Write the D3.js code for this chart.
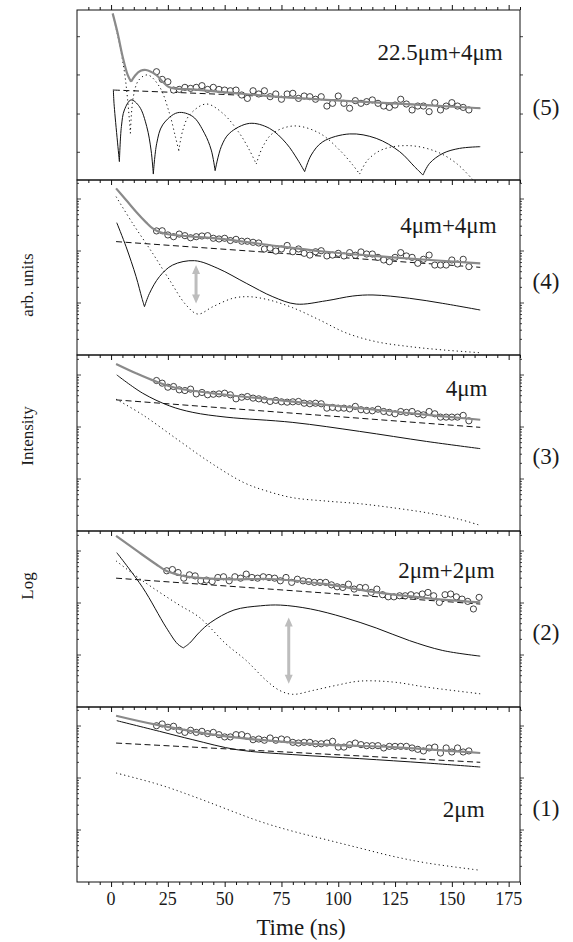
<!DOCTYPE html>
<html>
<head>
<meta charset="utf-8">
<script src="https://cdn.jsdelivr.net/npm/d3@7"></script>
<style>
body { margin: 0; background: #fff; }
svg text { font-family: "Liberation Serif", "DejaVu Serif", "Times New Roman", Times, serif; fill: #1a1a1a; }
</style>
</head>
<body>
<div id="chart"></div>
<script>
var width = 573, height = 942
var serif = "Liberation Serif"

// ---- data (y values are in % of each panel's log-intensity span) ----
var panelNames = ["22.5\u03bcm+4\u03bcm", "4\u03bcm+4\u03bcm", "4\u03bcm", "2\u03bcm+2\u03bcm", "2\u03bcm"]
var panelNumbers = ["(5)", "(4)", "(3)", "(2)", "(1)"]
var xMajorTicks = [0, 25, 50, 75, 100, 125, 150, 175]
var xMinorTicks = [-10, -5, 5, 10, 15, 20, 30, 35, 40, 45, 55, 60, 65, 70, 80, 85, 90, 95, 105, 110, 115, 120, 130, 135, 140, 145, 155, 160, 165, 170, 180]
var topPanelYTicks = [16.3, 38.8, 61.8, 84.3]

var timesA = [20, 22.5, 25, 27.5, 30, 32.5, 35, 37.5, 40, 42.5, 45, 47.5, 50, 52.5, 55, 57.5, 60, 62.5, 65, 67.5,
  70, 72.5, 75, 77.5, 80, 82.5, 85, 87.5, 90, 92.5, 95, 97.5, 100, 102.5, 105, 107.5, 110, 112.5, 115, 117.5,
  120, 122.5, 125, 127.5, 130, 132.5, 135, 137.5, 140, 142.5, 145, 147.5, 150, 152.5, 155, 157.5]
var timesB = [24.5, 27, 29.5, 32, 34.5, 37, 39.5, 42, 44.5, 47, 49.5, 52, 54.5, 57, 59.5, 62, 64.5, 67, 69.5, 72,
  74.5, 77, 79.5, 82, 84.5, 87, 89.5, 92, 94.5, 97, 99.5, 102, 104.5, 107, 109.5, 112, 114.5, 117, 119.5, 122,
  124.5, 127, 129.5, 132, 134.5, 137, 139.5, 142, 144.5, 147, 149.5, 152, 154.5, 157, 159.5, 162]

var dots5 = [63.7, 59.2, 57.8, 52.9, 53.3, 54.5, 53.9, 54.5, 55.5, 53.3, 54.5, 53.3, 52.9, 52.5, 52.9, 50.0, 48.0, 52.5, 50.6, 52.5,
  49.0, 50.6, 47.5, 50.6, 51.0, 48.0, 49.4, 49.0, 47.5, 49.0, 43.5, 45.1, 49.4, 45.1, 42.2, 46.7, 45.1, 46.1, 47.1, 45.1,
  43.5, 42.7, 44.1, 47.5, 44.7, 41.2, 43.5, 43.5, 40.2, 45.5, 41.2, 43.5, 45.5, 43.5, 42.7, 41.2]
var dots4 = [70.9, 71.0, 68.6, 67.6, 69.1, 68.2, 67.0, 67.6, 68.0, 68.2, 66.7, 66.3, 66.7, 65.4, 66.1, 65.0, 65.0, 64.4, 64.0, 60.6,
  61.0, 59.4, 60.6, 62.6, 59.0, 60.6, 58.1, 57.1, 59.0, 59.6, 56.6, 57.1, 58.1, 56.6, 58.5, 57.0, 58.9, 57.7, 57.7, 55.8,
  54.3, 53.3, 55.8, 58.5, 56.6, 55.8, 52.4, 54.7, 57.1, 51.4, 51.4, 51.4, 54.3, 52.0, 54.7, 50.5]
var dots3 = [85.5, 84.0, 81.7, 82.1, 80.2, 79.8, 80.6, 77.9, 78.7, 77.4, 77.7, 77.9, 78.3, 77.4, 75.1, 76.0, 76.4, 75.5, 75.1, 74.5,
  73.6, 74.2, 73.4, 73.2, 73.4, 73.6, 72.6, 72.3, 72.6, 72.3, 69.8, 70.2, 69.8, 69.8, 69.4, 70.8, 68.9, 68.5, 68.3, 69.2,
  67.9, 67.4, 66.6, 67.9, 67.4, 67.9, 66.6, 66.0, 67.9, 66.6, 64.7, 64.7, 64.7, 64.7, 65.7, 62.6]
var dots2 = [77.4, 78.1, 76.4, 73.2, 75.1, 74.5, 71.7, 72.1, 71.3, 73.6, 74.0, 71.7, 74.0, 73.2, 75.5, 73.6, 73.2, 74.0, 73.6, 73.2,
  71.7, 73.6, 70.8, 72.6, 71.7, 71.3, 70.8, 70.8, 70.8, 69.4, 68.3, 67.9, 69.8, 67.0, 67.9, 67.9, 65.1, 67.0, 63.8, 62.6,
  62.6, 63.2, 63.2, 63.8, 63.2, 64.2, 65.1, 63.2, 59.4, 63.8, 64.2, 62.6, 61.3, 60.0, 55.7, 62.3]
var dots1 = [89.3, 90.3, 88.4, 89.0, 86.7, 85.5, 86.7, 85.5, 86.1, 84.8, 85.5, 84.2, 82.9, 82.9, 84.2, 84.2, 83.2, 81.3, 81.7, 81.0,
  82.3, 81.0, 81.7, 81.3, 79.8, 79.4, 79.8, 79.8, 79.0, 79.0, 79.4, 80.4, 77.1, 77.1, 78.5, 79.4, 78.5, 77.9, 77.9, 77.9,
  76.6, 77.5, 77.5, 77.5, 77.5, 76.6, 75.8, 74.9, 76.6, 77.1, 73.7, 76.6, 74.3, 76.6, 74.3, 74.9]

// model curves: list of segments, each segment a list of [time, value]
var fit5 = [[[0.7, 98], [2.9, 86.3], [5.1, 72.5], [7.3, 61.8], [8.8, 57.8]],
  [[8.8, 57.8], [10.6, 61.5], [13, 64.2], [15.4, 64.7], [19.8, 61.8], [25.7, 54.5], [36, 53.3], [50.6, 51.6], [72.7, 49.0], [94.7, 47.1], [124, 45.1], [162.5, 42.2]]]
var dashed5 = [[[1.3, 52.9], [50, 50.3], [95, 47.3], [162.5, 42.2]]]
var solid5 = [[[1.0, 53.3], [1.3, 45], [3.66, 10.8]],
  [[3.66, 10.8], [4.54, 31.4], [5.86, 41.2], [8.8, 47.1], [12.5, 43.1], [15.7, 31.4], [17.6, 17.6], [18.6, 3.5]],
  [[18.6, 3.5], [20.1, 21.6], [22.7, 32.4], [29.3, 39.6], [36.0, 37.3], [41.1, 27.5], [44.1, 17.6], [45.8, 5.5]],
  [[45.8, 5.5], [48.5, 19.6], [52.1, 27.5], [60.9, 33.3], [69.7, 30.4], [77.1, 21.6], [82.2, 11.8], [85.2, 4.9]],
  [[85.2, 4.9], [88.1, 14.7], [93.2, 22.5], [105, 27.1], [116.7, 24.5], [127, 16.7], [133.6, 7.8], [137.3, 2.9]],
  [[137.3, 2.9], [140.2, 9.8], [146.1, 15.7], [153.4, 18.6], [162.5, 19.6]]]
var dotted5 = [[[1.0, 96.1], [3.66, 80.4], [5.86, 63.7], [7.3, 47.1], [8.5, 27.5]],
  [[8.5, 27.5], [9.8, 49.0], [12.2, 58.8], [16.1, 61.8], [21.3, 54.9], [25.7, 39.2], [28.3, 25.5], [29.8, 17.3]],
  [[29.8, 17.3], [31.6, 29.4], [34.5, 38.2], [41.8, 44.7], [49.2, 39.2], [56.5, 27.5], [60.9, 17.6], [63.9, 9.4]],
  [[63.9, 9.4], [66.8, 19.6], [71.2, 27.5], [80.7, 31.8], [91.8, 27.5], [100.6, 17.6], [106.4, 8.8], [109.4, 3.5]],
  [[109.4, 3.5], [113, 11.8], [119.6, 18.0], [131.4, 20.2], [143.2, 16.7], [152, 9.8], [160, -1]]]

var fit4 = [[[2.2, 95.2], [6.6, 88.6], [11.0, 81.9], [15.4, 75.8], [18.3, 72.3], [21.3, 70.2], [25, 69.0], [30, 68.3], [36, 67.6], [50.6, 66.1], [72.7, 62.3], [94.7, 59.0], [124, 55.8], [162.5, 52.4]]]
var dashed4 = [[[2.2, 64.8], [162.5, 50.1]]]
var solid4 = [[[2.5, 75.6], [6.6, 61.9], [11.0, 44.8], [13.6, 32.4], [14.7, 27.6]],
  [[14.7, 27.6], [16.9, 35.2], [21.3, 44.8], [27.1, 51.4], [36.7, 53.9], [47.0, 49.5], [59.5, 41.0], [71.2, 33.3], [81.5, 29.1], [94.7, 31.0], [106.4, 33.7], [115.3, 34.3], [131.4, 32.4], [146, 29.5], [162.5, 25.7]]]
var dotted4 = [[[2.2, 90.5], [9.5, 75.2], [18.3, 58.1], [25.7, 42.9], [33.0, 28.6], [38.2, 23.4], [44.8, 27.6], [53.6, 32.4], [60.9, 33.3], [69.7, 31.4], [80, 27.0], [91.8, 20.0], [103.5, 12.6], [116.7, 7.6], [131.4, 4.8], [146, 2.9], [162.5, 1.3]]]

var fit3 = [[[2.2, 94.9], [11.0, 89.6], [19.8, 84.9], [29.3, 81.1], [50.6, 77.4], [72.7, 74.5], [94.7, 71.7], [124, 67.9], [162.5, 63.2]]]
var dashed3 = [[[2.2, 74.5], [162.5, 58.9]]]
var solid3 = [[[2.5, 88.7], [13.9, 78.3], [25.7, 71.1], [36, 67.4], [50.6, 64.7], [80, 61.7], [109.4, 56.6], [138.8, 50.9], [162.5, 46.8]]]
var dotted3 = [[[2.2, 74.9], [13.9, 66.0], [29.3, 51.9], [43.9, 38.7], [58.6, 27.4], [68.8, 22.6], [80, 18.9], [94.7, 17.0], [109.4, 15.5], [124, 13.2], [138.8, 10.4], [153.4, 6.6], [162.5, 3.2]]]

var fit2 = [[[2.2, 97.2], [12.5, 87.7], [19.8, 81.1], [24.2, 77.4], [30, 75.0], [36, 73.6], [50.6, 72.6], [72.7, 72.6], [94.7, 69.8], [116.7, 65.1], [138.8, 61.9], [162.5, 59.4]]]
var dashed2 = [[[2.2, 73.2], [162.5, 58.5]]]
var solid2 = [[[2.5, 87.7], [13.9, 67.9], [24.2, 45.3], [29.3, 35.8], [31.8, 33.6]],
  [[31.8, 33.6], [34.5, 36.2], [38.9, 42.5], [43.9, 48.1], [54.1, 55.1], [65.8, 57.5], [74.6, 57.9], [87.8, 55.7], [102.5, 50.9], [116.7, 44.9], [131.4, 37.7], [146, 32.1], [162.5, 28.9]]]
var dotted2 = [[[2.2, 83.0], [13.9, 71.7], [29.3, 58.5], [38.9, 50.9], [50.6, 35.8], [59.5, 26.4], [68.3, 15.1], [74.2, 9.4], [80, 7.2], [88.8, 9.4], [99.1, 12.3], [109.4, 14.7], [124, 14.2], [138.8, 11.3], [162.5, 7.5]]]

var fit1 = [[[2.2, 95.0], [19.8, 89.9], [50.6, 83.2], [94.7, 78.5], [124, 77.1], [162.5, 73.7]]]
var dashed1 = [[[2.2, 79.4], [162.5, 68.4]]]
var solid1 = [[[2.5, 92.2], [21.3, 86.1], [36, 81.3], [55.4, 75.6], [80, 72.8], [109.4, 70.5], [138.8, 68.0], [162.5, 65.7]]]
var dotted1 = [[[2.2, 62.3], [21.3, 55.6], [36, 49.0], [65.3, 34.7], [80, 29.0], [94.7, 24.2], [109.4, 19.4], [124, 14.7], [138.8, 10.9], [162.5, 6.7]]]

// gray double arrows: [panel index, time, from, to]
var arrows = [[1, 37.4, 51.4, 29.5], [3, 78.2, 50.9, 13.2]]

// ---- layout ----
var panelTop = [10, 180, 355, 531, 707]
var panelBottom = [180, 355, 531, 707, 882]
var labelPos = [[172.4, 70.6], [169.7, 69.7], [165.7, 76.7], [168.8, 73.3], [164.4, 37.1]]

var panels = [
  { dots: dots5, times: timesA, fit: fit5, dashed: dashed5, solid: solid5, dotted: dotted5 },
  { dots: dots4, times: timesA, fit: fit4, dashed: dashed4, solid: solid4, dotted: dotted4 },
  { dots: dots3, times: timesA, fit: fit3, dashed: dashed3, solid: solid3, dotted: dotted3 },
  { dots: dots2, times: timesB, fit: fit2, dashed: dashed2, solid: solid2, dotted: dotted2 },
  { dots: dots1, times: timesA, fit: fit1, dashed: dashed1, solid: solid1, dotted: dotted1 }
]

var svg = d3.select("#chart")
  .append("svg")
  .attr("width", width)
  .attr("height", height)
  .attr("font-family", serif)

var x = d3.scaleLinear().domain([-15, 180]).range([77, 520])

panels.forEach(function (p, i) {
  var top = panelTop[i], bottom = panelBottom[i]
  var y = d3.scaleLinear().domain([0, 100]).range([bottom, top])
  var g = svg.append("g")

  g.append("clipPath").attr("id", "clip" + i)
    .append("rect")
    .attr("x", x.range()[0]).attr("y", top)
    .attr("width", x.range()[1] - x.range()[0]).attr("height", bottom - top)

  var line = d3.line()
    .x(function (d) { return x(d[0]) })
    .y(function (d) { return y(d[1]) })
    .curve(d3.curveCatmullRom.alpha(0.5))

  var plot = g.append("g").attr("clip-path", "url(#clip" + i + ")")

  function drawCurve(segs, stroke, w, dash) {
    plot.selectAll(null)
      .data(segs)
      .enter().append("path")
      .attr("d", line)
      .attr("fill", "none")
      .attr("stroke", stroke)
      .attr("stroke-width", w)
      .attr("stroke-dasharray", dash)
  }
  drawCurve(p.dotted, "#111", 1, "1.2,3")
  drawCurve(p.dashed, "#111", 1, "6,3.5")
  drawCurve(p.solid, "#111", 1, null)

  plot.selectAll("circle")
    .data(p.dots)
    .enter().append("circle")
    .attr("cx", function (d, k) { return x(p.times[k]) })
    .attr("cy", function (d) { return y(d) })
    .attr("r", 3.1)
    .attr("fill", "#fff")
    .attr("stroke", "#111")
    .attr("stroke-width", 0.8)

  drawCurve(p.fit, "#8a8a8a", 2.2, null)

  // gray double-headed arrow
  arrows.filter(function (a) { return a[0] == i }).forEach(function (a) {
    var ax = x(a[1]), y1 = y(a[2]), y2 = y(a[3]), h = 8, hw = 4
    plot.append("line")
      .attr("x1", ax).attr("x2", ax)
      .attr("y1", y1 + h).attr("y2", y2 - h)
      .attr("stroke", "#bdbdbd").attr("stroke-width", 3)
    plot.append("path")
      .attr("d", "M" + ax + "," + y1 + "L" + (ax - hw) + "," + (y1 + h + 1) + "L" + (ax + hw) + "," + (y1 + h + 1) + "Z" +
        "M" + ax + "," + y2 + "L" + (ax - hw) + "," + (y2 - h - 1) + "L" + (ax + hw) + "," + (y2 - h - 1) + "Z")
      .attr("fill", "#bdbdbd")
  })

  // frame
  g.append("rect")
    .attr("x", x.range()[0]).attr("y", top)
    .attr("width", x.range()[1] - x.range()[0]).attr("height", bottom - top)
    .attr("fill", "none").attr("stroke", "#111").attr("stroke-width", 1)

  // x ticks below each panel
  var tickG = g.append("g").attr("transform", "translate(0," + bottom + ")")
  tickG.call(d3.axisBottom(x).tickValues(xMajorTicks).tickSize(5).tickFormat(""))
  tickG.append("g").call(d3.axisBottom(x).tickValues(xMinorTicks).tickSize(3).tickFormat(""))
  tickG.selectAll(".domain").remove()
  if (i == 0) {
    var topG = g.append("g").attr("transform", "translate(0," + top + ")")
    topG.call(d3.axisTop(x).tickValues(xMajorTicks).tickSize(5).tickFormat(""))
    topG.append("g").call(d3.axisTop(x).tickValues(xMinorTicks).tickSize(3).tickFormat(""))
    topG.selectAll(".domain").remove()
  }

  // y ticks (left inside, right outside)
  var yTickVals, yTickScale, tickLen
  if (i == 0) {
    yTickScale = y
    yTickVals = topPanelYTicks
    tickLen = function () { return 3 }
  } else {
    yTickScale = d3.scaleLog().domain([1, Math.pow(10, (bottom - top) / 52)]).range([bottom, top])
    yTickVals = yTickScale.ticks().filter(function (v) { return yTickScale(v) > top + 1 && yTickScale(v) < bottom - 1 })
    tickLen = function (v) { return Math.abs(Math.log10(v) % 1) < 1e-6 ? 4 : 2 }
  }
  ;[x.range()[0], x.range()[1]].forEach(function (ex) {
    g.append("g").selectAll("line")
      .data(yTickVals)
      .enter().append("line")
      .attr("x1", ex).attr("x2", function (v) { return ex + tickLen(v) })
      .attr("y1", function (v) { return yTickScale(v) })
      .attr("y2", function (v) { return yTickScale(v) })
      .attr("stroke", "#111").attr("stroke-width", 0.8)
  })

  // labels
  g.append("text")
    .attr("x", x(labelPos[i][0]))
    .attr("y", y(labelPos[i][1]))
    .attr("text-anchor", "end")
    .attr("font-family", serif)
    .style("font-size", "23px")
    .text(panelNames[i])
  g.append("text")
    .attr("x", 546)
    .attr("y", top + (bottom - top) * 0.62)
    .attr("text-anchor", "middle")
    .attr("font-family", serif)
    .style("font-size", "23px")
    .text(panelNumbers[i])

  if (i == panels.length - 1) {
    g.append("g").selectAll("text")
      .data(xMajorTicks)
      .enter().append("text")
      .attr("x", function (d) { return x(d) })
      .attr("y", bottom + 23)
      .attr("text-anchor", "middle")
      .attr("font-family", serif)
      .style("font-size", "18px")
      .text(function (d) { return d })
  }
})

svg.selectAll(".tick line").attr("stroke", "#111")

// axis titles
svg.append("text")
  .attr("x", 301).attr("y", 935)
  .attr("text-anchor", "middle")
  .attr("font-family", serif)
  .style("font-size", "23px")
  .text("Time (ns)")

var yLabels = [["arb. units", 285], ["Intensity", 436], ["Log", 586]]
yLabels.forEach(function (l) {
  svg.append("text")
    .attr("transform", "translate(33," + l[1] + ") rotate(-90)")
    .attr("text-anchor", "middle")
    .attr("font-family", serif)
    .style("font-size", "17px")
    .text(l[0])
})
</script>
</body>
</html>
